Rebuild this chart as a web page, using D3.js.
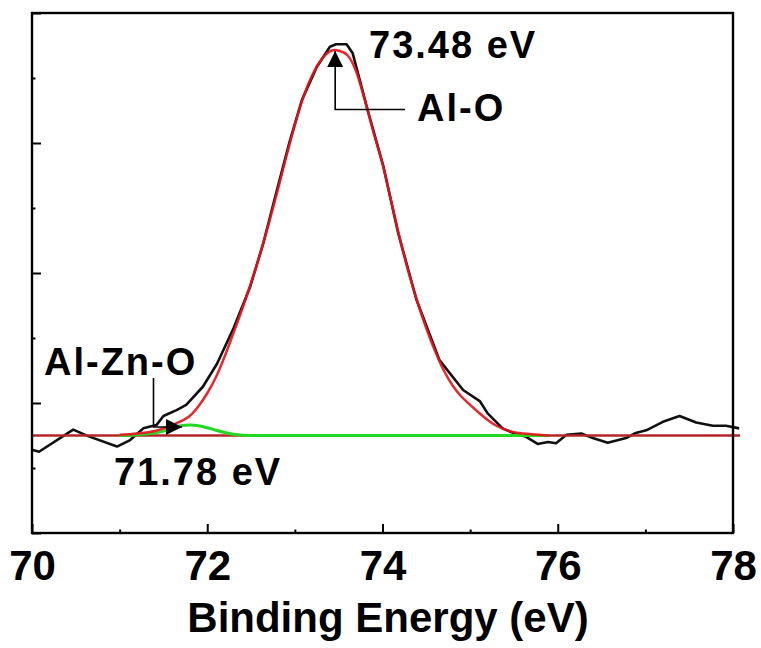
<!doctype html>
<html>
<head>
    <style>
        body { margin: 0; background: #fff; }
        text { font-family: "Liberation Sans", Arial, sans-serif; font-weight: bold; }
    </style>
    <script src="https://d3js.org/d3.v7.min.js"></script>
</head>
<body>
<svg width="761" height="648"></svg>
<script>
var dataE = [70.00, 70.08, 70.47, 70.64, 70.97, 71.12, 71.27, 71.42, 71.50, 71.65, 71.76, 71.95,
             72.11, 72.30, 72.49, 72.64, 72.79, 72.94, 73.08, 73.25, 73.40, 73.47, 73.59, 73.66,
             73.83, 74.01, 74.18, 74.39, 74.65, 74.92, 75.11, 75.20, 75.37, 75.49, 75.64, 75.77,
             75.89, 75.98, 76.10, 76.27, 76.40, 76.57, 76.78, 76.89, 77.01, 77.20, 77.39, 77.58,
             77.77, 77.92, 78.07];
var dataI = [1.28, 1.25, 1.59, 1.49, 1.33, 1.43, 1.61, 1.66, 1.80, 1.89, 1.97, 2.25,
             2.60, 3.15, 3.79, 4.46, 5.25, 6.02, 6.66, 7.17, 7.48, 7.52, 7.52, 7.38,
             6.51, 5.64, 4.61, 3.58, 2.66, 2.20, 2.03, 1.84, 1.61, 1.54, 1.48, 1.37,
             1.40, 1.38, 1.51, 1.53, 1.46, 1.39, 1.46, 1.54, 1.58, 1.71, 1.80, 1.70,
             1.65, 1.65, 1.61];

// cumulative fit (red)
var fitE = [71.0, 71.2, 71.4, 71.5, 71.6, 71.7, 71.8, 71.9, 72.0, 72.1, 72.2, 72.3, 72.4, 72.5,
            72.6, 72.7, 72.8, 72.9, 73.0, 73.1, 73.2, 73.3, 73.4, 73.46, 73.5, 73.6, 73.7, 73.8,
            73.9, 74.0, 74.1, 74.2, 74.3, 74.4, 74.5, 74.6, 74.7, 74.8, 74.9, 75.0, 75.1, 75.2,
            75.3, 75.4, 75.5, 75.7, 75.9];
var fitI = [1.51, 1.53, 1.57, 1.61, 1.66, 1.72, 1.80, 1.95, 2.15, 2.40, 2.72, 3.08, 3.45, 3.85,
            4.28, 4.75, 5.25, 5.78, 6.28, 6.72, 7.05, 7.28, 7.41, 7.43, 7.42, 7.35, 7.10, 6.65,
            6.15, 5.68, 5.10, 4.52, 4.00, 3.55, 3.15, 2.80, 2.50, 2.27, 2.10, 1.97, 1.85, 1.74,
            1.65, 1.59, 1.55, 1.52, 1.50];

// Al-Zn-O component (green)
var peak2E = [71.0, 71.2, 71.4, 71.5, 71.6, 71.7, 71.8, 71.9, 72.0, 72.1, 72.2, 72.3, 72.4, 72.5, 75.9];
var peak2I = [1.50, 1.51, 1.54, 1.57, 1.61, 1.65, 1.66, 1.65, 1.62, 1.58, 1.545, 1.52, 1.505, 1.50, 1.50];

// background line
var baseE = [70.0, 78.08];
var baseI = [1.50, 1.50];

var xMajor = [70, 72, 74, 76, 78],
    xMinor = [71, 73, 75, 77],
    yMajor = [0, 2, 4, 6, 8],
    yMinor = [1, 3, 5, 7];

var svg = d3.select("svg"),
    plotL = 32, plotR = 733, plotT = 13, plotB = 533;

var x = d3.scaleLinear().domain([70, 78]).range([plotL, plotR]),
    y = d3.scaleLinear().domain([0, 8]).range([plotB, plotT]);

function zip(a, b) { return a.map(function(d, i) { return [d, b[i]]; }); }

var line = d3.line().x(function(d) { return x(d[0]); }).y(function(d) { return y(d[1]); });
var smooth = d3.line().curve(d3.curveMonotoneX)
    .x(function(d) { return x(d[0]); }).y(function(d) { return y(d[1]); });

// arrow head marker
svg.append("defs").append("marker")
    .attr("id", "head")
    .attr("viewBox", "0 0 10 10")
    .attr("refX", 10).attr("refY", 5)
    .attr("markerWidth", 16).attr("markerHeight", 16)
    .attr("markerUnits", "userSpaceOnUse")
    .attr("orient", "auto")
  .append("path")
    .attr("d", "M0,0L10,5L0,10Z")
    .attr("fill", "#000");

// curves
svg.append("path").datum(zip(dataE, dataI))
    .attr("d", line).attr("fill", "none").attr("stroke", "#111").attr("stroke-width", 2.6)
    .attr("stroke-linejoin", "round");
svg.append("path").datum(zip(baseE, baseI))
    .attr("d", line).attr("fill", "none").attr("stroke", "#b5262b").attr("stroke-width", 2.4);
svg.append("path").datum(zip(peak2E, peak2I))
    .attr("d", smooth).attr("fill", "none").attr("stroke", "#22d822").attr("stroke-width", 3);
svg.append("path").datum(zip(fitE, fitI))
    .attr("d", smooth).attr("fill", "none").attr("stroke", "#e8141c").attr("stroke-width", 2.5)
    .attr("stroke-opacity", 0.92);

// axes
var gx = svg.append("g").attr("transform", "translate(0," + plotB + ")");
gx.call(d3.axisBottom(x).tickValues(xMajor).tickSizeInner(-9).tickSizeOuter(0).tickPadding(17)
    .tickFormat(d3.format("d")));
gx.append("g").call(d3.axisBottom(x).tickValues(xMinor).tickSizeInner(-3.5).tickSizeOuter(0).tickFormat(""));
gx.selectAll(".domain").remove();
gx.selectAll("line").attr("stroke", "#000").attr("stroke-width", 2);
gx.selectAll("text").attr("font-size", 42).attr("fill", "#000")
    .attr("font-family", "Liberation Sans, Arial, sans-serif").attr("font-weight", "bold");

var gy = svg.append("g").attr("transform", "translate(" + plotL + ",0)");
gy.call(d3.axisLeft(y).tickValues(yMajor).tickSizeInner(-9).tickSizeOuter(0).tickFormat(""));
gy.append("g").call(d3.axisLeft(y).tickValues(yMinor).tickSizeInner(-3.5).tickSizeOuter(0).tickFormat(""));
gy.selectAll(".domain").remove();
gy.selectAll("line").attr("stroke", "#000").attr("stroke-width", 2);

// frame
svg.append("rect")
    .attr("x", plotL).attr("y", plotT)
    .attr("width", plotR - plotL).attr("height", plotB - plotT)
    .attr("fill", "none").attr("stroke", "#000").attr("stroke-width", 2.4);

// axis title
svg.append("text")
    .attr("x", 388).attr("y", 632)
    .attr("text-anchor", "middle")
    .attr("font-size", 42)
    .text("Binding Energy (eV)");

// annotations
function label(t, tx, ty) {
    svg.append("text").attr("x", tx).attr("y", ty)
        .attr("font-size", 38).attr("letter-spacing", 2).text(t);
}
label("73.48 eV", 369, 58);
label("Al-O", 417, 121);
label("Al-Zn-O", 44, 375);
label("71.78 eV", 114, 485);

svg.append("path")
    .attr("d", "M405,109.5H" + x(73.46) + "V" + (y(7.43) + 1))
    .attr("fill", "none").attr("stroke", "#000").attr("stroke-width", 1.6)
    .attr("marker-end", "url(#head)");
svg.append("path")
    .attr("d", "M153.5,378V427L" + (x(71.78) - 6) + ",427")
    .attr("fill", "none").attr("stroke", "#000").attr("stroke-width", 1.6)
    .attr("marker-end", "url(#head)");
</script>
</body>
</html>
